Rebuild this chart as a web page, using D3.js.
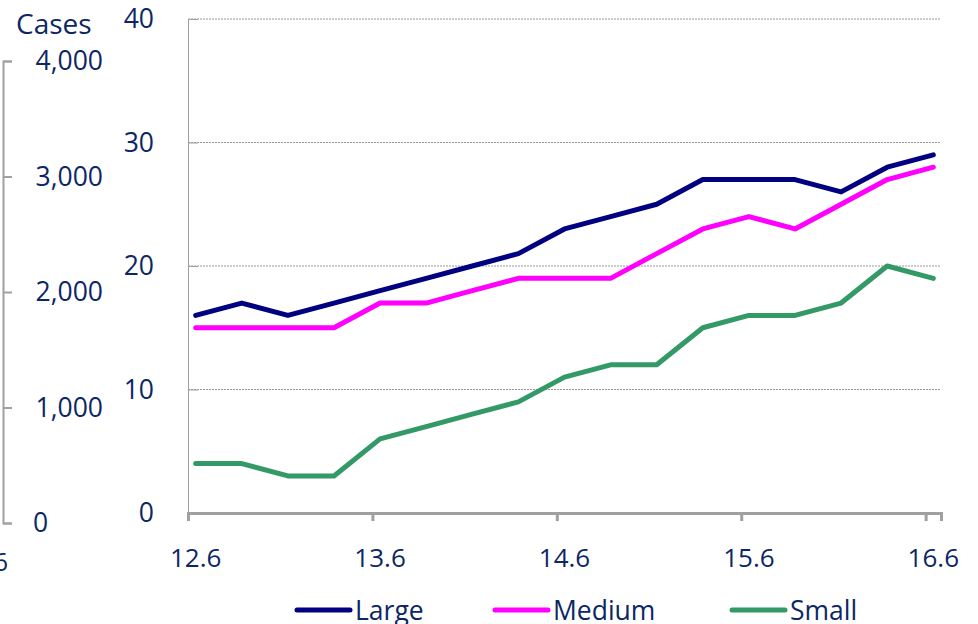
<!DOCTYPE html>
<html>
<head>
<meta charset="utf-8">
<script src="https://cdn.jsdelivr.net/npm/d3@7"></script>
<style>
  body { margin: 0; background: #fff; }
  svg { display: block; font-family: "Open Sans", sans-serif; }
</style>
</head>
<body>
<svg width="978" height="624"></svg>
<script>
// quarterly readings, June 2012 .. June 2016
const months = ["2012-06","2012-09","2012-12","2013-03","2013-06","2013-09","2013-12","2014-03",
  "2014-06","2014-09","2014-12","2015-03","2015-06","2015-09","2015-12","2016-03","2016-06"];
const large  = [16,17,16,17,18,19,20,21,23,24,25,27,27,27,26,28,29];
const medium = [15,15,15,15,17,17,18,19,19,19,21,23,24,23,25,27,28];
const small  = [4,4,3,3,6,7,8,9,11,12,12,15,16,16,17,20,19];
const yTicks = [0,10,20,30,40];
const casesTicks = [0,1000,2000,3000,4000];
const xTickMonths = ["2012-06","2013-06","2014-06","2015-06","2016-06"];

const series = [
  {name: "Large", values: large, color: "#000080"},
  {name: "Medium", values: medium, color: "#ff00ff"},
  {name: "Small", values: small, color: "#339966"}
];

const textColor = "#0c2764";
const axisGray = "#a0a0a0";

// month slots counted from June 2012
const monthIndex = s => {
  const [y, m] = s.split("-").map(Number);
  return (y - 2012) * 12 + (m - 6);
};

const svg = d3.select("svg");

const x = d3.scaleLinear().domain([0, 49]).range([188, 941]);
const y = d3.scaleLinear().domain([0, 40]).range([513, 19]);
const yCases = d3.scaleLinear().domain([0, 4000]).range([523, 61]);

// gridlines
svg.append("g").selectAll("line")
  .data(yTicks.filter(d => d > 0))
  .join("line")
  .attr("x1", x(0)).attr("x2", x(49))
  .attr("y1", d => y(d)).attr("y2", d => y(d))
  .attr("stroke", "#999").attr("stroke-width", 1)
  .attr("stroke-dasharray", "2,1");

// main y axis
const yAxis = svg.append("g")
  .attr("transform", `translate(${x(0)},0)`)
  .call(d3.axisRight(y).tickValues(yTicks).tickSize(10).tickFormat(""));
yAxis.select(".domain").attr("stroke", axisGray);
yAxis.selectAll(".tick line").attr("stroke", axisGray);

svg.append("g").selectAll("text")
  .data(yTicks)
  .join("text")
  .attr("x", 154).attr("y", d => y(d))
  .attr("dy", "0.35em")
  .attr("text-anchor", "end")
  .attr("font-size", 26.5)
  .attr("fill", textColor)
  .text(d => d);

// x axis
const xAxis = svg.append("g")
  .attr("transform", `translate(0,${y(0)})`)
  .call(d3.axisBottom(x).tickValues(xTickMonths.map(monthIndex)).tickSize(8).tickFormat(""));
xAxis.select(".domain").attr("stroke", axisGray).attr("stroke-width", 3);
xAxis.selectAll(".tick line").attr("stroke", axisGray).attr("stroke-width", 3);

svg.append("g").selectAll("text")
  .data(xTickMonths)
  .join("text")
  .attr("x", d => x(monthIndex(d) + 0.5))
  .attr("y", 558)
  .attr("dy", "0.35em")
  .attr("text-anchor", "middle")
  .attr("font-size", 26)
  .attr("fill", textColor)
  .text(d => d.slice(2, 4) + "." + (+d.slice(5)));

// clipped label of the neighbouring chart
svg.append("text")
  .attr("x", 8).attr("y", 562).attr("dy", "0.35em")
  .attr("text-anchor", "end")
  .attr("font-size", 26).attr("fill", textColor)
  .text("16.6");

// cases axis on the left
const casesAxis = svg.append("g")
  .attr("transform", "translate(3,0)")
  .call(d3.axisRight(yCases).tickValues(casesTicks).tickSize(9).tickFormat(""));
casesAxis.select(".domain").attr("stroke", axisGray).attr("stroke-width", 2);
casesAxis.selectAll(".tick line").attr("stroke", axisGray).attr("stroke-width", 2);

svg.append("g").selectAll("text")
  .data(casesTicks)
  .join("text")
  .attr("x", d => d === 0 ? 33 : 103)
  .attr("y", d => yCases(d))
  .attr("dy", "0.35em")
  .attr("text-anchor", d => d === 0 ? "start" : "end")
  .attr("font-size", 26.5)
  .attr("fill", textColor)
  .text(d => d3.format(",")(d));

svg.append("text")
  .attr("x", 16).attr("y", 34)
  .attr("font-size", 28)
  .attr("fill", textColor)
  .text("Cases");

// lines
const line = d3.line()
  .x((v, i) => x(monthIndex(months[i]) + 0.5))
  .y(v => y(v));

svg.append("g").selectAll("path")
  .data(series)
  .join("path")
  .attr("d", d => line(d.values))
  .attr("fill", "none")
  .attr("stroke", d => d.color)
  .attr("stroke-width", 5)
  .attr("stroke-linejoin", "round")
  .attr("stroke-linecap", "round");

// legend
const legendX = [297, 495, 732];
const legend = svg.append("g").selectAll("g")
  .data(series)
  .join("g")
  .attr("transform", (d, i) => `translate(${legendX[i]},610)`);
legend.append("line")
  .attr("x1", 0).attr("x2", 53)
  .attr("stroke", d => d.color)
  .attr("stroke-width", 5)
  .attr("stroke-linecap", "round");
legend.append("text")
  .attr("x", 58).attr("y", 10)
  .attr("font-size", 26.5)
  .attr("fill", textColor)
  .text(d => d.name);
</script>
</body>
</html>
